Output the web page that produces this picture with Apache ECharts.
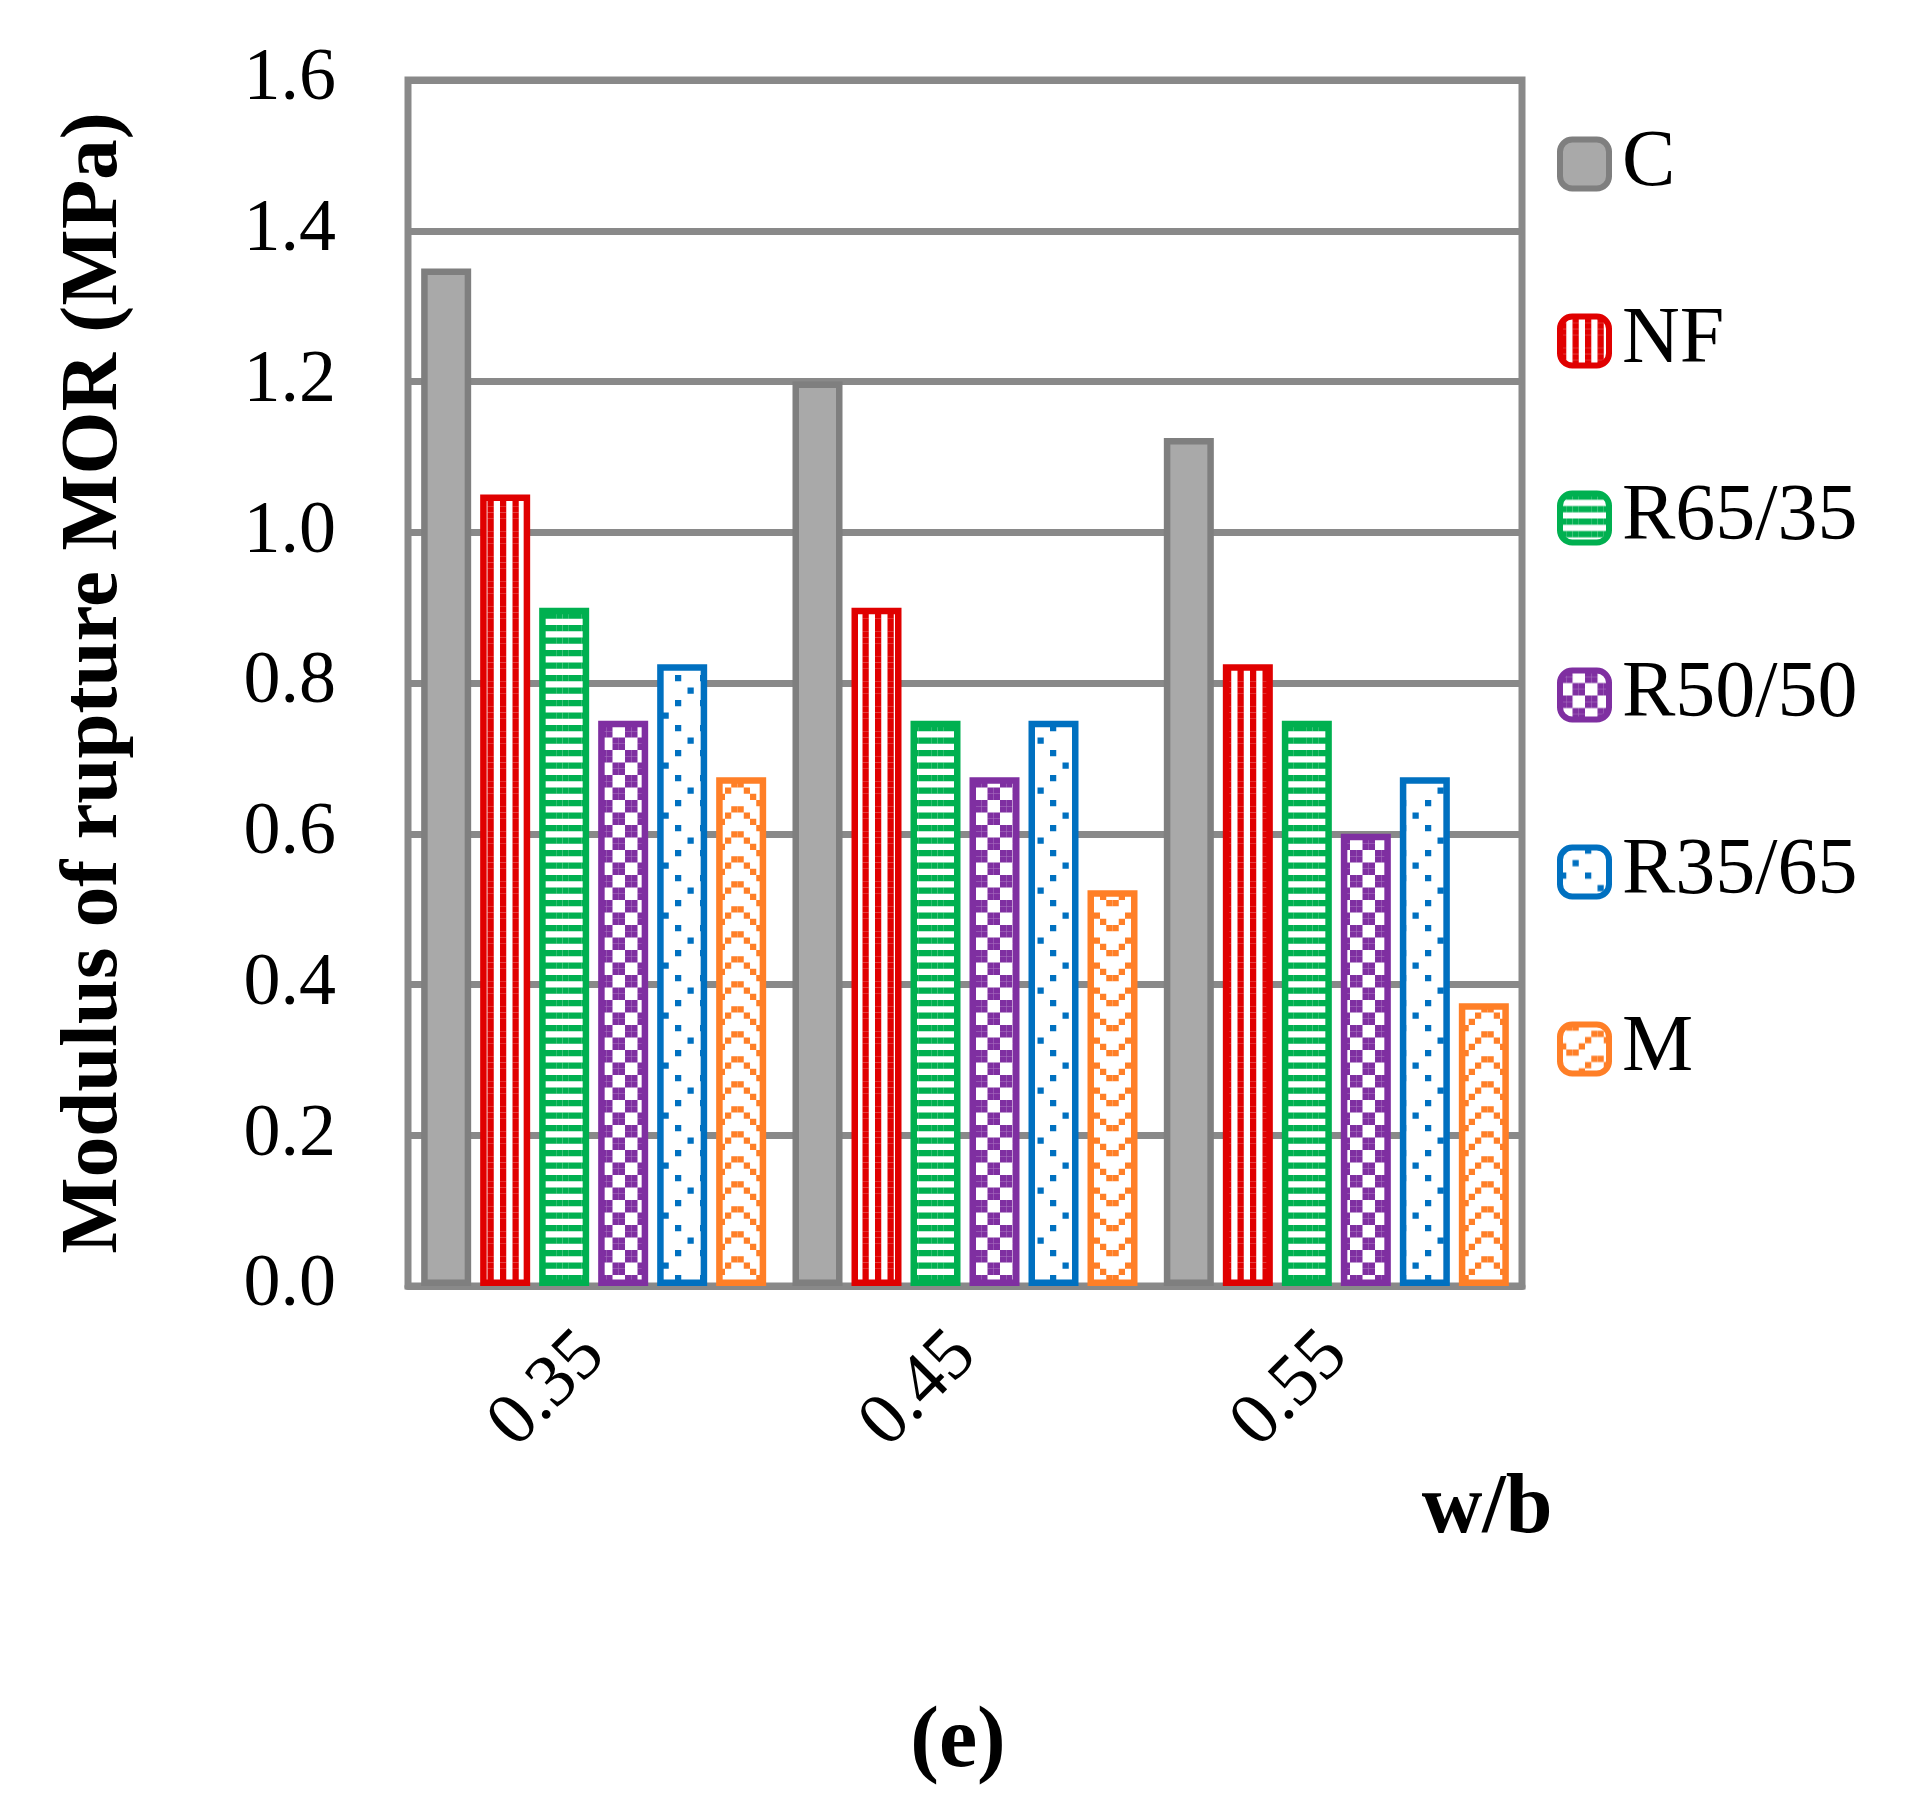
<!DOCTYPE html>
<html>
<head>
<meta charset="utf-8">
<title>MOR</title>
<script src="https://cdn.jsdelivr.net/npm/echarts@6/dist/echarts.min.js"></script>
<style>
  html, body { margin: 0; padding: 0; background: #fff; }
  #chart { width: 1915px; height: 1817px; }
</style>
</head>
<body>
<div id="chart"></div>
<script>
// data
var categories = ['0.35', '0.45', '0.55'];
var seriesNames = ['C', 'NF', 'R65/35', 'R50/50', 'R35/65', 'M'];
var valC = [1.35, 1.2, 1.125];
var valNF = [1.05, 0.9, 0.825];
var valR65 = [0.9, 0.75, 0.75];
var valR50 = [0.75, 0.675, 0.6];
var valR35 = [0.825, 0.75, 0.675];
var valM = [0.675, 0.525, 0.375];
var yTicks = [0, 0.2, 0.4, 0.6, 0.8, 1.0, 1.2, 1.4, 1.6];

var FONT = '"Liberation Serif", "Times New Roman", serif';
var GRID_COLOR = '#898989';

// 8x8 excel-like fill patterns, one cell = 6.25px
function tile(color, test) {
  var px = 6.25;
  var cv = document.createElement('canvas');
  cv.width = 50;
  cv.height = 50;
  var ctx = cv.getContext('2d');
  ctx.fillStyle = '#fff';
  ctx.fillRect(0, 0, 50, 50);
  ctx.fillStyle = color;
  for (var y = 0; y < 8; y++) {
    for (var x = 0; x < 8; x++) {
      if (test(x, y)) ctx.fillRect(x * px, y * px, px, px);
    }
  }
  return { image: cv, repeat: 'repeat' };
}

var waveRows = [[1, 2], [5, 6], [4, 7], [0, 3]];
var dots = ['0,0', '4,0', '2,2', '0,4', '4,4', '6,6'];

var styles = [
  { color: '#A9A9A9', border: '#7F7F7F' },
  { color: tile('#E00000', function (x, y) { return x % 2 === 0; }), border: '#E00000' },
  { color: tile('#00B050', function (x, y) { return y % 2 === 0; }), border: '#00B050' },
  { color: tile('#7F2FA1', function (x, y) { return ((x >> 1) + (y >> 1)) % 2 === 0; }), border: '#7F2FA1' },
  { color: tile('#0070C0', function (x, y) { return dots.indexOf(x + ',' + y) >= 0; }), border: '#0070C0' },
  { color: tile('#FF7F27', function (x, y) { return waveRows[y % 4].indexOf(x) >= 0; }), border: '#FF7F27' }
];
var values = [valC, valNF, valR65, valR50, valR35, valM];

var series = [];
for (var i = 0; i < seriesNames.length; i++) {
  series.push({
    name: seriesNames[i],
    type: 'bar',
    data: values[i],
    barWidth: 50,
    barGap: '18%',
    itemStyle: {
      color: styles[i].color,
      borderColor: styles[i].border,
      borderWidth: 6.5
    }
  });
}

var myChart = echarts.init(document.getElementById('chart'), null, { renderer: 'canvas' });

var option = {
  animation: false,
  backgroundColor: '#fff',
  grid: {
    left: 408,
    right: 393,
    top: 80,
    bottom: 531,
    show: true,
    borderColor: GRID_COLOR,
    borderWidth: 7
  },
  legend: {
    orient: 'vertical',
    left: 1552,
    top: 119,
    itemWidth: 49,
    itemHeight: 49,
    itemGap: 97,
    icon: 'roundRect',
    itemStyle: { borderWidth: 6 },
    textStyle: {
      fontFamily: FONT,
      fontSize: 80,
      color: '#000',
      padding: [0, 0, 0, 8]
    },
    data: seriesNames
  },
  xAxis: {
    type: 'category',
    data: categories,
    axisTick: { show: false },
    axisLine: { lineStyle: { color: GRID_COLOR, width: 7 } },
    axisLabel: {
      rotate: 45,
      margin: 58,
      interval: 0,
      fontFamily: FONT,
      fontSize: 74,
      color: '#000'
    }
  },
  yAxis: {
    type: 'value',
    min: yTicks[0],
    max: yTicks[yTicks.length - 1],
    interval: 0.2,
    name: 'Modulus of rupture MOR (MPa)',
    nameLocation: 'middle',
    nameRotate: 90,
    nameGap: 272,
    nameTextStyle: {
      fontFamily: FONT,
      fontSize: 81,
      fontWeight: 'bold',
      color: '#000'
    },
    axisLine: { show: false },
    axisTick: { show: false },
    splitLine: { lineStyle: { color: GRID_COLOR, width: 7 } },
    axisLabel: {
      margin: 72,
      fontFamily: FONT,
      fontSize: 74,
      color: '#000',
      formatter: function (v) { return v.toFixed(1); }
    }
  },
  graphic: [
    {
      type: 'text',
      x: 1487,
      y: 1510,
      style: {
        text: 'w/b',
        font: 'bold 84px ' + FONT,
        fill: '#000',
        textAlign: 'center',
        textVerticalAlign: 'middle'
      }
    },
    {
      type: 'text',
      x: 958,
      y: 1744,
      style: {
        text: '(e)',
        font: 'bold 86px ' + FONT,
        fill: '#000',
        textAlign: 'center',
        textVerticalAlign: 'middle'
      }
    }
  ],
  series: series
};

myChart.setOption(option);
</script>
</body>
</html>
